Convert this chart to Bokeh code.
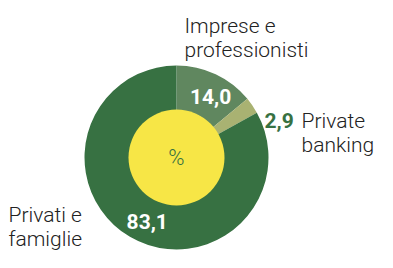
import math
from bokeh.plotting import figure
from bokeh.models import Range1d, ColumnDataSource
from bokeh.core.properties import value
from bokeh.embed import file_html
from bokeh.resources import INLINE

# ---- data ----
categories = ["Imprese e professionisti", "Private banking", "Privati e famiglie"]
values = [14.0, 2.9, 83.1]
value_labels = ["14,0", "2,9", "83,1"]
colors = ["#60875f", "#a9b272", "#377142"]
center_label = "%"

W, H = 377, 252
p = figure(width=W, height=H, output_backend="svg", toolbar_location=None,
           x_range=Range1d(0, W), y_range=Range1d(0, H), min_border=0)
p.axis.visible = False
p.grid.visible = False
p.outline_line_color = None
p.background_fill_color = None
p.border_fill_color = None

def Y(sy):
    return H - sy

cx, cy = 176, Y(157)
r_in, r_out = 48, 92

total = sum(values)
starts, ends, mids = [], [], []
acc = 0.0
for v in values:
    a0 = math.pi / 2 - acc / total * 2 * math.pi
    acc += v
    a1 = math.pi / 2 - acc / total * 2 * math.pi
    starts.append(a0)
    ends.append(a1)
    mids.append((a0 + a1) / 2)

src = ColumnDataSource(dict(start=starts, end=ends, color=colors))
p.annular_wedge(x=cx, y=cy, inner_radius=r_in - 1, outer_radius=r_out,
                start_angle="start", end_angle="end", direction="clock",
                fill_color="color", line_color=None, source=src)
p.circle(x=cx, y=cy, radius=r_in, fill_color="#f7e646", line_color=None)

p.text(x=[cx], y=[cy], text=[center_label], text_align="center", text_baseline="middle",
       text_font=value("Roboto Light"), text_font_size="22px", text_color="#377142")

# value labels inside slices (0 and 2)
lab_r = 70
for i, off in [(0, -0.07), (2, 0.10)]:
    a = mids[i] + off
    p.text(x=[cx + lab_r * math.cos(a)], y=[cy + lab_r * math.sin(a)], text=[value_labels[i]],
           text_align="center", text_baseline="middle", text_font=value("Roboto"),
           text_font_style="bold", text_font_size="21px", text_color="white")

# small slice value outside
p.text(x=[264], y=[Y(120)], text=[value_labels[1]], text_align="left", text_baseline="alphabetic",
       text_font=value("Roboto"), text_font_style="bold", text_font_size="21px", text_color="#377142")

def cat(x, y, s):
    p.text(x=[x], y=[Y(y)], text=[s], text_align="left", text_baseline="alphabetic",
           text_font=value("Roboto Light"), text_font_size="21px", text_color="#222222")

cat(184, 25, "Imprese e")
cat(184, 49, "professionisti")
cat(301, 120, "Private")
cat(301, 144, "banking")
cat(8, 214, "Privati e")
cat(8, 238, "famiglie")

open("out.html", "w").write(file_html(p, INLINE))
